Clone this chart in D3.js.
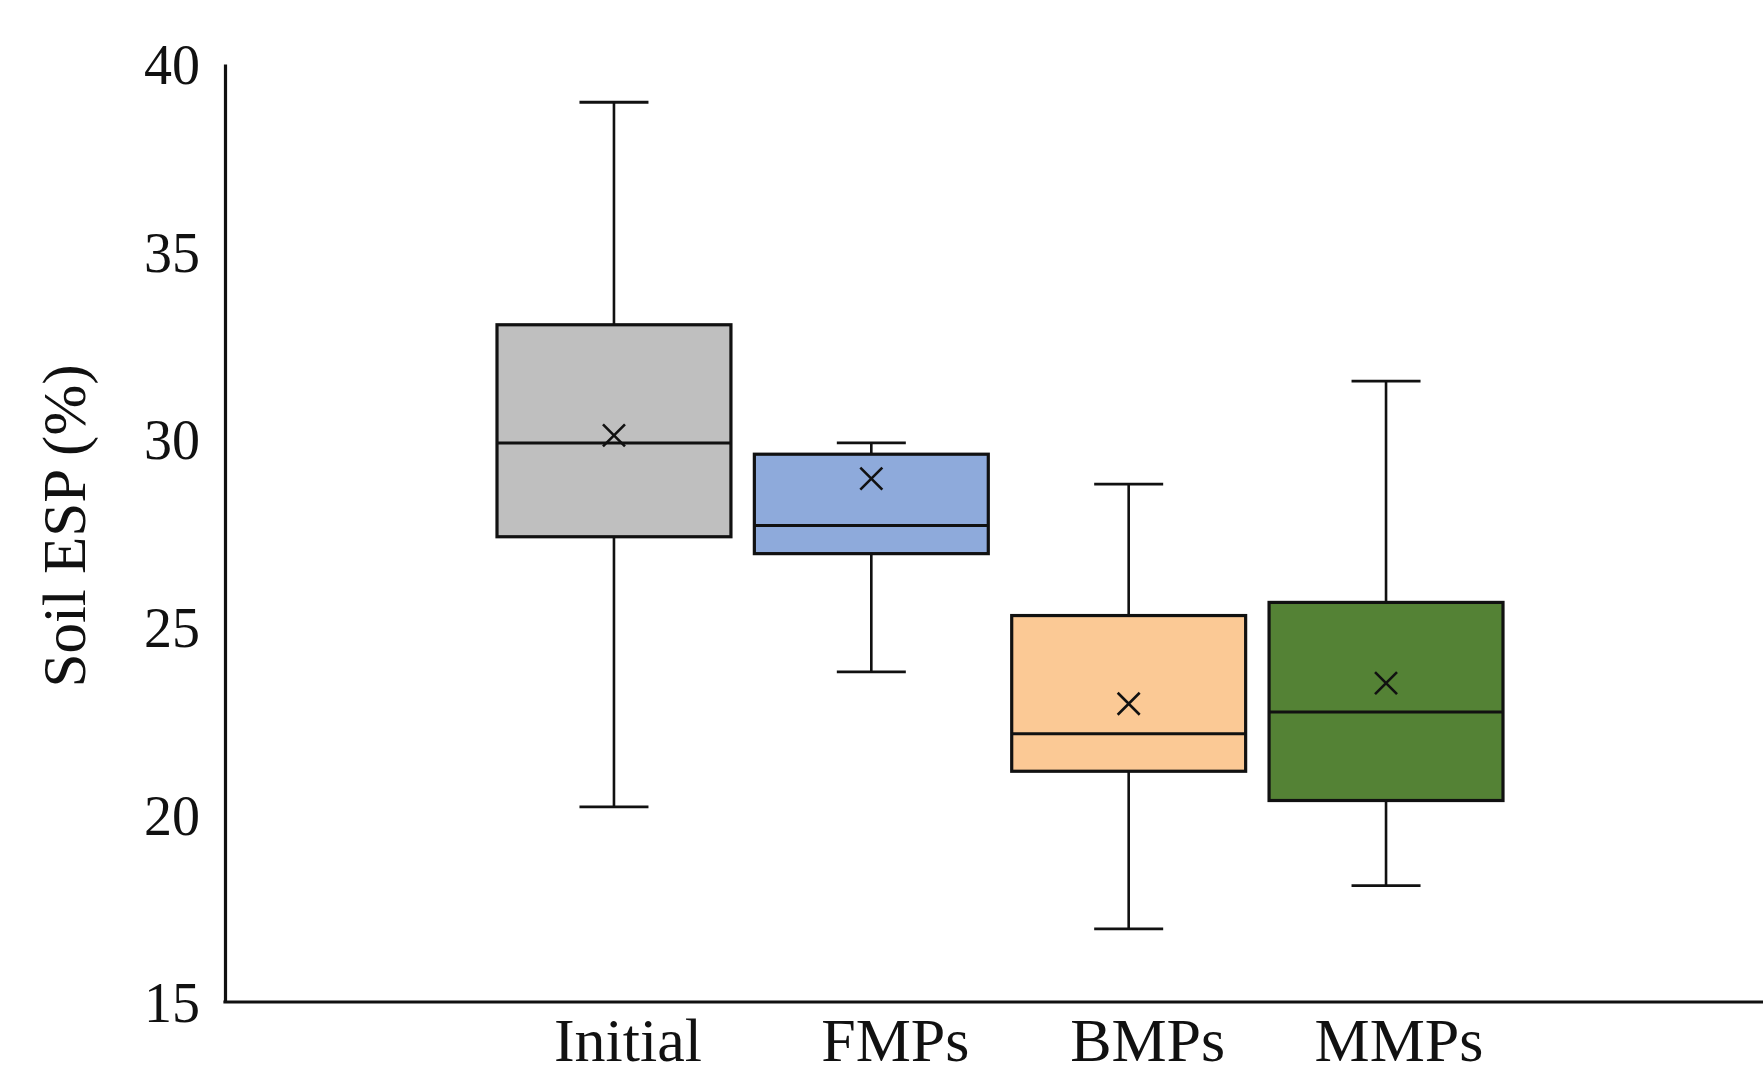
<!DOCTYPE html>
<html>
<head>
<meta charset="utf-8">
<script src="https://cdn.jsdelivr.net/npm/d3@7"></script>
<style>
  body { margin: 0; background: #fff; }
  svg text { font-family: "Liberation Serif", "Times New Roman", serif; fill: #111; }
</style>
</head>
<body>
<div id="chart"></div>
<script>
// box plot data
var groups = ["Initial", "FMPs", "BMPs", "MMPs"];
var whiskerMin = [20.2, 23.8, 16.95, 18.1];
var q1 = [27.4, 26.95, 21.15, 20.37];
var median = [29.9, 27.7, 22.15, 22.73];
var q3 = [33.05, 29.6, 25.3, 25.65];
var whiskerMax = [38.98, 29.9, 28.8, 31.55];
var means = [30.1, 28.95, 22.95, 23.5];
var fills = ["#bfbfbf", "#8eaadb", "#fbc995", "#548235"];
var yTicks = [15, 20, 25, 30, 35, 40];

var W = 1763, H = 1079;
var axisX = 225, axisTop = 64, axisBottom = 1002;

var svg = d3.select("#chart")
  .append("svg")
  .attr("width", W)
  .attr("height", H);

var y = d3.scaleLinear()
  .domain([15, 40])
  .range([axisBottom, axisTop]);

var x = d3.scaleBand()
  .domain(groups)
  .range([497, 1503])
  .paddingInner(0.091)
  .paddingOuter(0);

var data = groups.map(function(g, i) {
  return {group: g, min: whiskerMin[i], q1: q1[i], med: median[i],
          q3: q3[i], max: whiskerMax[i], mean: means[i], fill: fills[i]};
});

// y axis (no tick marks, just labels)
var yAxis = svg.append("g")
  .attr("transform", "translate(" + axisX + ",0)")
  .call(d3.axisLeft(y).tickValues(yTicks).tickSize(0).tickPadding(25));
yAxis.select(".domain").attr("stroke", "#111").attr("stroke-width", 3.2);
yAxis.selectAll("text")
  .style("font-size", "56px")
  .attr("dy", "0.35em");

// x axis line
svg.append("line")
  .attr("x1", axisX - 1.6).attr("x2", W)
  .attr("y1", axisBottom).attr("y2", axisBottom)
  .attr("stroke", "#111").attr("stroke-width", 3.2);

// y label
svg.append("text")
  .attr("transform", "translate(85," + 526 + ") rotate(-90)")
  .attr("text-anchor", "middle")
  .style("font-size", "61px")
  .text("Soil ESP (%)");

var capW = 69;
var boxes = svg.selectAll(".box")
  .data(data)
  .enter()
  .append("g")
  .attr("class", "box");

// whiskers
boxes.append("line")
  .attr("x1", function(d) { return x(d.group) + x.bandwidth() / 2; })
  .attr("x2", function(d) { return x(d.group) + x.bandwidth() / 2; })
  .attr("y1", function(d) { return y(d.max); })
  .attr("y2", function(d) { return y(d.min); })
  .attr("stroke", "#111").attr("stroke-width", 2.6);

["min", "max"].forEach(function(k) {
  boxes.append("line")
    .attr("x1", function(d) { return x(d.group) + x.bandwidth() / 2 - capW / 2; })
    .attr("x2", function(d) { return x(d.group) + x.bandwidth() / 2 + capW / 2; })
    .attr("y1", function(d) { return y(d[k]); })
    .attr("y2", function(d) { return y(d[k]); })
    .attr("stroke", "#111").attr("stroke-width", 2.8);
});

// boxes
boxes.append("rect")
  .attr("x", function(d) { return x(d.group); })
  .attr("y", function(d) { return y(d.q3); })
  .attr("width", x.bandwidth())
  .attr("height", function(d) { return y(d.q1) - y(d.q3); })
  .attr("fill", function(d) { return d.fill; })
  .attr("stroke", "#111").attr("stroke-width", 3.2);

// median
boxes.append("line")
  .attr("x1", function(d) { return x(d.group); })
  .attr("x2", function(d) { return x(d.group) + x.bandwidth(); })
  .attr("y1", function(d) { return y(d.med); })
  .attr("y2", function(d) { return y(d.med); })
  .attr("stroke", "#111").attr("stroke-width", 3);

// mean markers (x)
boxes.append("path")
  .attr("transform", function(d) {
    return "translate(" + (x(d.group) + x.bandwidth() / 2) + "," + y(d.mean) + ")";
  })
  .attr("d", "M-11,-11L11,11M-11,11L11,-11")
  .attr("stroke", "#111").attr("stroke-width", 2.6).attr("fill", "none");

// category labels (kept just inside the bottom edge)
var labelShift = [14, 24, 19, 13];
svg.selectAll(".xlab")
  .data(groups)
  .enter()
  .append("text")
  .attr("class", "xlab")
  .attr("x", function(d, i) { return x(d) + x.bandwidth() / 2 + labelShift[i]; })
  .attr("y", 1061)
  .attr("text-anchor", "middle")
  .style("font-size", "62px")
  .text(function(d) { return d; });
</script>
</body>
</html>
